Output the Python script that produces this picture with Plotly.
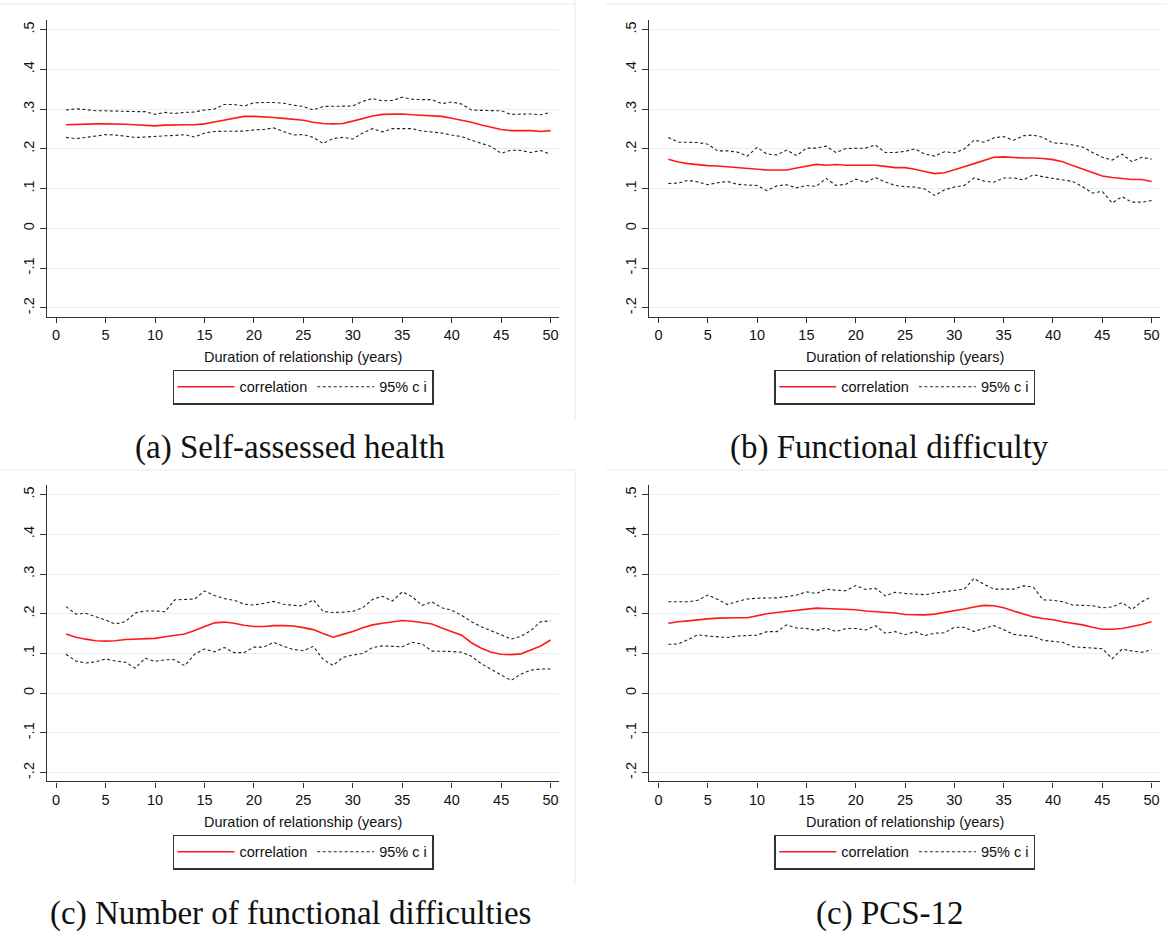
import plotly.graph_objects as go

# ---------------- data ----------------
years = list(range(1, 51))

sah_corr = [.261,.262,.263,.263,.263,.263,.262,.261,.260,.258, .260,.261,.261,.261,.263,.268,.273,.278,.282,.282,
            .281,.279,.277,.274,.272,.267,.264,.263,.264,.270, .276,.283,.287,.288,.288,.286,.285,.284,.282,.277,
            .272,.267,.260,.254,.249,.246,.246,.246,.244,.246]
sah_upper = [.298,.301,.299,.296,.296,.295,.294,.294,.294,.287, .292,.289,.292,.293,.298,.300,.312,.312,.308,.316,
             .317,.317,.315,.310,.307,.298,.307,.307,.307,.308, .320,.327,.321,.322,.330,.325,.324,.324,.314,.318,
             .313,.298,.297,.297,.296,.287,.287,.288,.286,.292]
sah_lower = [.229,.226,.229,.232,.236,.235,.232,.229,.230,.232, .233,.234,.236,.230,.240,.244,.244,.244,.245,.248,
             .249,.253,.243,.235,.236,.229,.214,.226,.229,.225, .240,.251,.243,.251,.251,.251,.245,.243,.240,.235,
             .231,.222,.214,.206,.189,.197,.196,.191,.196,.187]

fd_corr = [.174,.167,.163,.160,.158,.157,.155,.152,.150,.148, .147,.147,.147,.152,.157,.161,.159,.161,.159,.159,
           .159,.159,.156,.153,.153,.149,.143,.138,.140,.147, .155,.163,.171,.179,.180,.178,.177,.177,.176,.173,
           .168,.158,.149,.140,.132,.128,.125,.123,.123,.118]
fd_upper = [.229,.217,.217,.216,.212,.195,.195,.192,.182,.204, .187,.185,.197,.183,.202,.202,.207,.191,.201,.202,
            .202,.210,.191,.191,.194,.200,.187,.182,.193,.190, .200,.222,.217,.228,.231,.222,.233,.235,.229,.215,
            .214,.210,.205,.191,.179,.172,.187,.168,.179,.174]
fd_lower = [.113,.114,.121,.117,.110,.115,.118,.111,.109,.108, .095,.107,.110,.102,.108,.106,.126,.108,.111,.124,
            .116,.128,.117,.108,.105,.104,.099,.083,.097,.104, .108,.127,.119,.116,.127,.127,.122,.135,.130,.126,
            .122,.118,.105,.089,.093,.064,.080,.066,.066,.070]

nfd_corr = [.149,.141,.136,.132,.131,.132,.135,.136,.136,.138, .142,.145,.149,.158,.168,.177,.179,.176,.171,.168,
            .168,.170,.170,.169,.165,.160,.150,.141,.148,.155, .165,.172,.176,.180,.183,.181,.177,.174,.164,.155,
            .146,.127,.113,.103,.098,.097,.099,.109,.119,.134]
nfd_upper = [.218,.199,.201,.193,.184,.174,.180,.202,.207,.207, .205,.235,.236,.237,.257,.246,.238,.234,.224,.222,
             .226,.231,.224,.221,.220,.235,.206,.203,.204,.206, .215,.236,.244,.232,.255,.243,.221,.230,.215,.209,
             .196,.180,.167,.158,.147,.136,.143,.158,.180,.182]
nfd_lower = [.098,.081,.076,.079,.086,.081,.078,.063,.088,.080, .084,.084,.069,.098,.111,.104,.115,.102,.102,.116,
             .116,.128,.118,.110,.107,.118,.085,.070,.090,.096, .100,.115,.119,.118,.117,.128,.124,.106,.106,.105,
             .103,.093,.074,.060,.048,.032,.048,.058,.061,.061]

pcs_corr = [.176,.180,.182,.185,.187,.189,.190,.190,.190,.195, .200,.203,.206,.208,.212,.214,.213,.212,.212,.210,
            .207,.205,.204,.202,.198,.197,.197,.199,.203,.207, .212,.217,.221,.220,.215,.207,.200,.192,.188,.185,
            .180,.176,.172,.166,.161,.161,.163,.168,.173,.180]
pcs_upper = [.230,.230,.230,.234,.247,.236,.223,.231,.237,.239, .239,.240,.243,.247,.255,.251,.262,.259,.258,.271,
             .261,.264,.245,.254,.251,.249,.248,.252,.255,.258, .262,.289,.274,.262,.262,.262,.270,.267,.235,.234,
             .230,.222,.221,.220,.215,.217,.228,.211,.230,.243]
pcs_lower = [.123,.124,.135,.147,.144,.142,.140,.144,.145,.146, .155,.155,.172,.164,.163,.158,.164,.155,.163,.163,
             .159,.170,.151,.155,.147,.155,.145,.151,.152,.166, .166,.155,.163,.170,.160,.148,.145,.143,.133,.131,
             .128,.117,.115,.114,.112,.087,.111,.106,.103,.109]

x_tickvals = [0, 5, 10, 15, 20, 25, 30, 35, 40, 45, 50]
y_tickvals = [-0.2, -0.1, 0, 0.1, 0.2, 0.3, 0.4, 0.5]
y_ticktext = ["-.2", "-.1", "0", ".1", ".2", ".3", ".4", ".5"]
x_title = "Duration of relationship (years)"
corr_name = "correlation"
ci_name = "95% c i"
captions = ["(a) Self-assessed health", "(b) Functional difficulty",
            "(c) Number of functional difficulties", "(c) PCS-12"]

panels = [
    (sah_corr, sah_upper, sah_lower),
    (fd_corr, fd_upper, fd_lower),
    (nfd_corr, nfd_upper, nfd_lower),
    (pcs_corr, pcs_upper, pcs_lower),
]

# ---------------- layout geometry (pixels) ----------------
W, H = 1167, 932
def fx(p):
    return p / W
def fy(p):
    return 1 - p / H

col_x = [(47, 559), (649.4, 1160)]
row_y = [(20.2, 316.6), (485.0, 781.4)]
caption_cx = [290, 890]
caption_cy = [448, 913]
legend_mid = [387, 852]

SANS = "Liberation Sans, Arial, sans-serif"
SERIF = "Liberation Serif, Times New Roman, serif"
FS = 14.5

fig = go.Figure()
layout_axes = {}
annotations = []
shapes = []

for k, (corr, upper, lower) in enumerate(panels):
    r, c = divmod(k, 2)
    n = k + 1
    xa = "x" if n == 1 else f"x{n}"
    ya = "y" if n == 1 else f"y{n}"
    lg = "legend" if n == 1 else f"legend{n}"
    x0, x1 = col_x[c]
    y0, y1 = row_y[r]

    fig.add_trace(go.Scatter(x=years, y=corr, mode="lines", name=corr_name,
                             line=dict(color="#ff1a1a", width=1.6),
                             xaxis=xa, yaxis=ya, legend=lg, legendgroup=f"c{n}"))
    fig.add_trace(go.Scatter(x=years, y=upper, mode="lines", name=ci_name,
                             line=dict(color="#222222", width=1.1, dash="3px,2.5px"),
                             xaxis=xa, yaxis=ya, legend=lg, legendgroup=f"ci{n}"))
    fig.add_trace(go.Scatter(x=years, y=lower, mode="lines", name=ci_name,
                             line=dict(color="#222222", width=1.1, dash="3px,2.5px"),
                             xaxis=xa, yaxis=ya, legend=lg, legendgroup=f"ci{n}",
                             showlegend=False))

    xkey = "xaxis" if n == 1 else f"xaxis{n}"
    ykey = "yaxis" if n == 1 else f"yaxis{n}"
    layout_axes[xkey] = dict(
        domain=[fx(x0), fx(x1)], anchor=ya, range=[-0.92, 50.85],
        tickmode="array", tickvals=x_tickvals, ticks="outside", ticklen=5,
        tickwidth=1.2, tickcolor="#333", showline=True, linecolor="#333",
        linewidth=1.3, showgrid=False, zeroline=False,
        tickfont=dict(family=SANS, size=FS, color="#111"), fixedrange=True)
    layout_axes[ykey] = dict(
        domain=[fy(y1), fy(y0)], anchor=xa, range=[-0.222, 0.524],
        tickmode="array", tickvals=y_tickvals, ticktext=y_ticktext,
        tickangle=-90, ticks="outside", ticklen=6, tickwidth=1.2,
        tickcolor="#333", showline=True, linecolor="#333", linewidth=1.3,
        showgrid=True, gridcolor="#e6eff1", gridwidth=1, zeroline=False,
        tickfont=dict(family=SANS, size=FS, color="#111"), fixedrange=True)

    layout_axes[lg] = dict(
        x=fx((x0 + x1) / 2), y=fy(legend_mid[r]), xanchor="center", yanchor="middle",
        orientation="h", bgcolor="white", bordercolor="#333", borderwidth=1.3,
        font=dict(family=SANS, size=FS, color="#111"), itemwidth=57,
        tracegroupgap=0)

    # axis title
    annotations.append(dict(text=x_title, x=fx((x0 + x1) / 2), y=fy(y1 + 40.5),
                            xref="paper", yref="paper", xanchor="center", yanchor="middle",
                            showarrow=False, font=dict(family=SANS, size=FS, color="#111")))
    # caption
    annotations.append(dict(text=captions[k], x=fx(caption_cx[c]), y=fy(caption_cy[r]),
                            xref="paper", yref="paper", xanchor="center", yanchor="middle",
                            showarrow=False, font=dict(family=SERIF, size=33, color="#111")))

# faint frame lines around the sub-figures
frame_col = "#e4ebed"
for top in (4, 470):
    shapes.append(dict(type="line", xref="paper", yref="paper",
                       x0=0, x1=fx(575), y0=fy(top), y1=fy(top),
                       line=dict(color=frame_col, width=1)))
    shapes.append(dict(type="line", xref="paper", yref="paper",
                       x0=fx(606), x1=1, y0=fy(top), y1=fy(top),
                       line=dict(color=frame_col, width=1)))
shapes.append(dict(type="line", xref="paper", yref="paper", x0=fx(575), x1=fx(575),
                   y0=fy(0), y1=fy(420), line=dict(color=frame_col, width=1)))
shapes.append(dict(type="line", xref="paper", yref="paper", x0=fx(575), x1=fx(575),
                   y0=fy(470), y1=fy(885), line=dict(color=frame_col, width=1)))

fig.update_layout(
    width=W, height=H, autosize=False,
    margin=dict(l=0, r=0, t=0, b=0),
    paper_bgcolor="white", plot_bgcolor="white",
    annotations=annotations, shapes=shapes,
    **layout_axes,
)

fig.write_html("out.html", include_plotlyjs=True, config={"displayModeBar": False, "responsive": False},
               post_script="document.body.style.margin='0';document.body.style.overflow='hidden';")
